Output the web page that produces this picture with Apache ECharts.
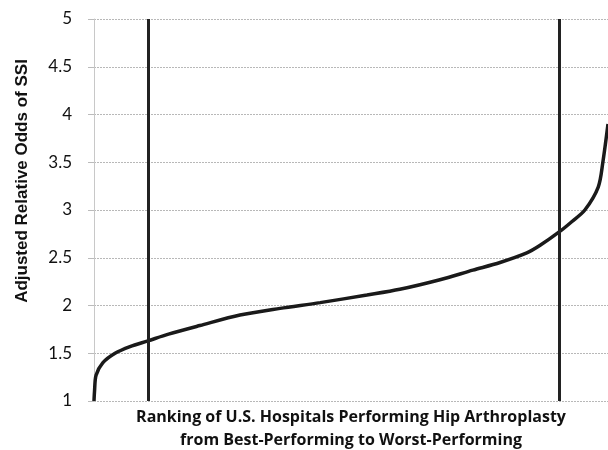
<!DOCTYPE html>
<html>
<head>
<meta charset="utf-8">
<script src="https://cdn.jsdelivr.net/npm/echarts@6/dist/echarts.min.js"></script>
<style>
  html, body { margin: 0; padding: 0; background: #fff; }
  #chart { width: 608px; height: 450px; }
</style>
</head>
<body>
<div id="chart"></div>
<script>
// hospital rank (percentile, best -> worst) and adjusted relative odds of SSI
const ranks = [0, 0.1, 0.4, 1.7, 4.1, 7.0, 10.5, 14.5, 20.6, 28.4, 36.2, 44.0, 53.1, 59.5, 67.3, 73.7, 79.0, 84.2, 86.8, 90.5, 93.0, 95.5, 98.1, 99.0, 100];
const odds = [1.0, 1.1, 1.27, 1.40, 1.5, 1.57, 1.63, 1.70, 1.79, 1.90, 1.97, 2.03, 2.11, 2.17, 2.27, 2.37, 2.45, 2.55, 2.63, 2.77, 2.88, 3.0, 3.24, 3.5, 3.9];
// vertical reference lines (10th and 90th percentile)
const cutoffs = [10.5, 90.5];
const yTicks = [1, 1.5, 2, 2.5, 3, 3.5, 4, 4.5, 5];

const chart = echarts.init(document.getElementById("chart"));

chart.setOption({
  animation: false,
  grid: {
    left: 94,
    right: 0,
    top: 19,
    bottom: 49,
    containLabel: false,
    outerBoundsMode: "none",
  },
  xAxis: {
    type: "value",
    min: 0,
    max: 100,
    axisLine: { show: false },
    axisTick: { show: false },
    axisLabel: { show: false },
    splitLine: { show: false },
    name: "Ranking of U.S. Hospitals Performing Hip Arthroplasty\nfrom Best-Performing to Worst-Performing",
    nameLocation: "middle",
    nameGap: 5,
    nameTextStyle: {
      fontFamily: "Open Sans",
      fontWeight: "bold",
      fontSize: 16,
      color: "#111",
      lineHeight: 23,
    },
  },
  yAxis: {
    type: "value",
    min: 1,
    max: 5,
    interval: 0.5,
    axisLine: { show: true, lineStyle: { color: "#c8c8c8", width: 1 } },
    axisTick: { show: true, length: 6, lineStyle: { color: "#bbb" } },
    axisLabel: {
      margin: 22,
      fontFamily: "Lato",
      fontSize: 17,
      color: "#111",
      formatter: (v) => (yTicks.includes(v) ? String(v) : ""),
    },
    splitLine: { show: true, lineStyle: { color: "#b8b8b8", type: [2, 1], width: 1 } },
  },
  graphic: [
    {
      type: "text",
      x: 22,
      y: 181,
      rotation: Math.PI / 2,
      style: {
        text: "Adjusted Relative Odds of SSI",
        font: "bold 17px 'Liberation Sans', Arial, sans-serif",
        fill: "#111",
        align: "center",
        verticalAlign: "middle",
      },
    },
  ],
  series: [
    {
      type: "line",
      data: ranks.map((r, i) => [r, odds[i]]),
      smooth: 0.3,
      showSymbol: false,
      lineStyle: { color: "#1a1a1a", width: 3.5 },
      markLine: {
        silent: true,
        symbol: "none",
        label: { show: false },
        lineStyle: { color: "#222", width: 3, type: "solid" },
        data: cutoffs.map((c) => ({ xAxis: c })),
      },
      z: 3,
    },
  ],
});
</script>
</body>
</html>
